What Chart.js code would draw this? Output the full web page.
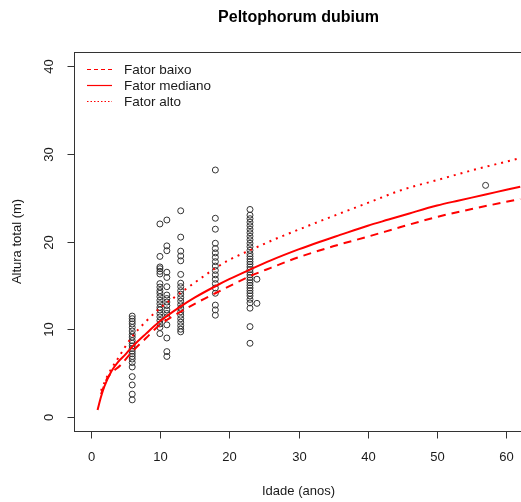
<!DOCTYPE html>
<html>
<head>
<meta charset="utf-8">
<script src="https://cdn.jsdelivr.net/npm/chart.js@4/dist/chart.umd.min.js"></script>
<style>
  body { margin: 0; background: #fff; }
  #wrap { width: 521px; height: 502px; overflow: hidden; }
</style>
</head>
<body>
<div id="wrap"><canvas id="chart" width="528" height="502"></canvas></div>
<script>
// Peltophorum dubium: observed heights by age plus three fitted curves.

// Observed heights (m) by age (anos)
const h06 = [11.5, 11.2, 10.9, 10.6, 10.2, 9.8, 9.4, 9.1, 8.7, 8.4, 8.1, 7.8, 7.5, 7.2, 6.9, 6.6, 6.2, 5.7, 4.6, 3.65, 2.6, 1.95];
const h10 = [22.0, 18.3, 17.1, 16.9, 16.6, 16.3, 15.2, 14.8, 14.4, 14.1, 13.7, 13.3, 12.9, 12.5, 12.2, 11.8, 11.4, 11.0, 10.6, 10.2, 9.5];
const h11 = [22.45, 19.5, 18.95, 16.5, 15.9, 14.85, 13.9, 13.5, 13.1, 12.7, 12.2, 11.8, 11.4, 10.5, 9.0, 7.45, 6.9];
const h13 = [23.5, 20.5, 18.9, 18.35, 17.8, 16.25, 15.25, 14.85, 14.4, 14.0, 13.6, 13.2, 12.8, 12.4, 12.0, 11.6, 11.2, 10.8, 10.4, 10.0, 9.7];
const h18 = [28.15, 22.65, 21.4, 19.8, 19.2, 18.7, 18.2, 17.7, 17.2, 16.7, 16.2, 15.7, 15.2, 14.7, 14.1, 12.75, 12.2, 11.6];
const h23 = [23.65, 23.0, 22.6, 22.2, 21.8, 21.4, 21.0, 20.6, 20.2, 19.8, 19.4, 19.0, 18.6, 18.3, 18.0, 17.7, 17.4, 17.1,
  16.8, 16.5, 16.2, 15.9, 15.6, 15.3, 15.0, 14.7, 14.4, 14.1, 13.8, 13.4, 13.0, 12.4, 10.3, 8.4];
const h24 = [15.7, 12.95];
const h57 = [26.4];

// Fitted curves
const ageBaixo = [1.5, 2.4, 4.3, 6, 8, 10, 13, 15.5, 18, 23, 26, 30, 35, 40, 45, 50, 55, 62];
const fatorBaixo = [2.6, 4.4, 5.9, 7.45, 9.0, 10.5, 12.0, 13.1, 14.1, 16.05, 17.0, 18.2, 19.45, 20.55, 21.7, 22.8, 23.7, 24.85];
const ageMediano = [1, 1.5, 2, 3, 4, 5, 6, 8, 10, 13, 15, 18, 20, 23, 26, 30, 33, 36, 40, 43, 46, 50, 53, 57, 60, 62];
const fatorMediano = [0.8, 2.3, 3.5, 5.2, 6.3, 7.1, 8.0, 9.5, 10.9, 12.6, 13.6, 14.9, 15.7, 16.8, 17.85, 19.1, 19.95, 20.75, 21.8,
  22.5, 23.2, 24.1, 24.65, 25.35, 25.9, 26.25];
const ageAlto = [1.5, 2.5, 3.8, 6, 8, 10, 12.9, 15, 17.9, 20, 23, 27, 30, 35, 40, 45, 50, 55, 62];
const fatorAlto = [3.0, 4.8, 6.5, 9.15, 10.9, 12.4, 14.1, 15.3, 16.9, 17.9, 19.0, 20.4, 21.35, 22.9, 24.4, 25.9, 27.0, 28.1, 29.5];

const xTicks = [0, 10, 20, 30, 40, 50, 60];
const yTicks = [0, 10, 20, 30, 40];
const legendLabels = ["Fator baixo", "Fator mediano", "Fator alto"];

const RED = "#ff0000";
const FONT = "'Liberation Sans', Arial, sans-serif";

function pts(xs, ys) {
  return xs.map((x, i) => ({ x: x, y: ys[i] }));
}

function obs() {
  const groups = [[6, h06], [10, h10], [11, h11], [13, h13], [18, h18], [23, h23], [24, h24], [57, h57]];
  const out = [];
  for (const [age, hs] of groups) for (const h of hs) out.push({ x: age, y: h });
  return out;
}

function curve(label, xs, ys, dash) {
  return {
    label: label,
    data: pts(xs, ys),
    showLine: true,
    pointRadius: 0,
    borderColor: RED,
    borderWidth: 2,
    borderDash: dash,
    cubicInterpolationMode: "monotone",
    order: 0,
  };
}

// R-style frame, ticks, labels, title and legend
const rFrame = {
  id: "rFrame",
  afterDraw(chart) {
    const ctx = chart.ctx;
    const a = chart.chartArea;
    const xs = chart.scales.x;
    const ys = chart.scales.y;
    ctx.save();
    ctx.strokeStyle = "#333";
    ctx.lineWidth = 1;
    ctx.setLineDash([]);
    ctx.strokeRect(Math.round(a.left) + 0.5, Math.round(a.top) + 0.5,
      Math.round(a.right - a.left), Math.round(a.bottom - a.top));

    ctx.fillStyle = "#1a1a1a";
    ctx.font = "13px " + FONT;
    ctx.textAlign = "center";
    ctx.textBaseline = "middle";
    const by = Math.round(a.bottom) + 0.5;
    for (const t of xTicks) {
      const px = Math.round(xs.getPixelForValue(t)) + 0.5;
      ctx.beginPath();
      ctx.moveTo(px, by);
      ctx.lineTo(px, by + 7);
      ctx.stroke();
      ctx.fillText(String(t), px, 457);
    }
    const lx = Math.round(a.left) + 0.5;
    for (const t of yTicks) {
      const py = Math.round(ys.getPixelForValue(t)) + 0.5;
      ctx.beginPath();
      ctx.moveTo(lx, py);
      ctx.lineTo(lx - 7, py);
      ctx.stroke();
      ctx.save();
      ctx.translate(49, py);
      ctx.rotate(-Math.PI / 2);
      ctx.fillText(String(t), 0, 0);
      ctx.restore();
    }

    const cx = (a.left + a.right) / 2;
    const cy = (a.top + a.bottom) / 2;
    ctx.fillText("Idade (anos)", cx, 491);
    ctx.save();
    ctx.translate(17, cy);
    ctx.rotate(-Math.PI / 2);
    ctx.fillText("Altura total (m)", 0, 0);
    ctx.restore();

    ctx.font = "bold 16px " + FONT;
    ctx.fillStyle = "#000";
    ctx.fillText("Peltophorum dubium", cx, 18);

    // legend
    const dashes = [[4, 3], [], [1.5, 2]];
    ctx.font = "13.5px " + FONT;
    ctx.textAlign = "left";
    legendLabels.forEach((lab, i) => {
      const y = 69.5 + i * 16;
      ctx.strokeStyle = RED;
      ctx.lineWidth = 1.2;
      ctx.setLineDash(dashes[i]);
      ctx.beginPath();
      ctx.moveTo(87, y);
      ctx.lineTo(112, y);
      ctx.stroke();
      ctx.fillStyle = "#1a1a1a";
      ctx.fillText(lab, 124, y + 0.5);
    });
    ctx.restore();
  },
};

new Chart(document.getElementById("chart"), {
  type: "scatter",
  data: {
    datasets: [
      curve("Fator baixo", ageBaixo, fatorBaixo, [8, 6]),
      curve("Fator mediano", ageMediano, fatorMediano, []),
      curve("Fator alto", ageAlto, fatorAlto, [2, 5]),
      {
        label: "obs",
        data: obs(),
        pointRadius: 3,
        pointStyle: "circle",
        pointBackgroundColor: "rgba(0,0,0,0)",
        pointBorderColor: "#333",
        pointBorderWidth: 1,
        showLine: false,
        order: 1,
      },
    ],
  },
  options: {
    responsive: false,
    animation: false,
    layout: { padding: { left: 74, top: 52, right: 2, bottom: 71 } },
    plugins: { legend: { display: false }, title: { display: false }, tooltip: { enabled: false } },
    scales: {
      x: { type: "linear", min: -2.4, max: 62.4, display: false },
      y: { type: "linear", min: -1.6, max: 41.6, display: false },
    },
  },
  plugins: [rFrame],
});
</script>
</body>
</html>
